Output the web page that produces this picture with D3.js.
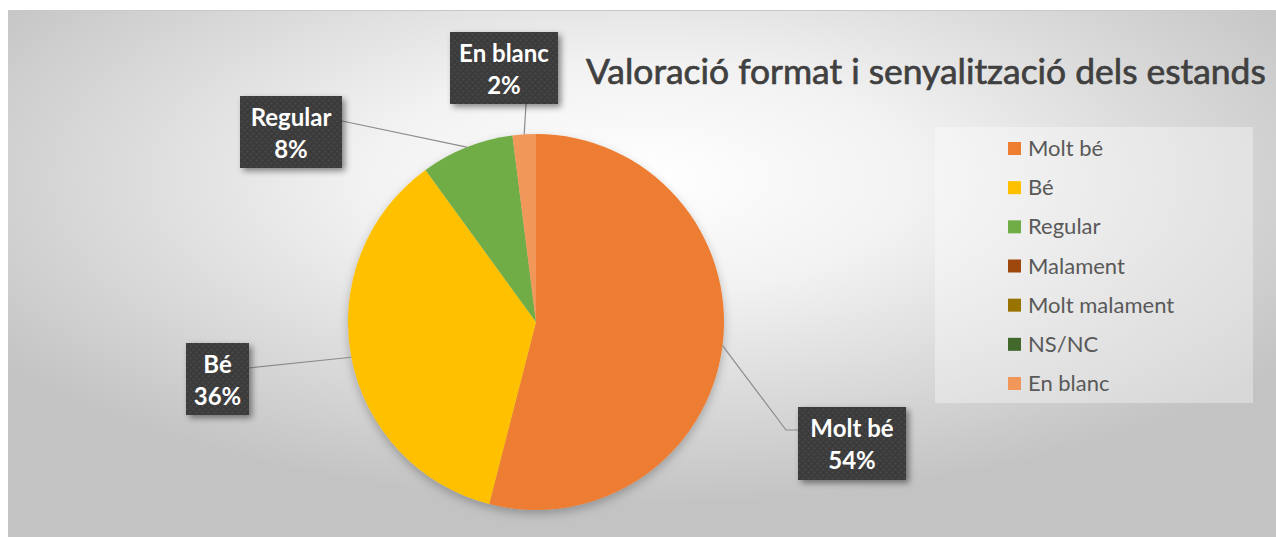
<!DOCTYPE html>
<html><head><meta charset="utf-8">
<script src="https://cdn.jsdelivr.net/npm/d3@7"></script>
<style>html,body{margin:0;padding:0;background:#fff;overflow:hidden}</style>
</head><body>
<svg id="chart" width="1276" height="537"></svg>
<script>
// ---- data ----
const categories = ["Molt bé","Bé","Regular","Malament","Molt malament","NS/NC","En blanc"];
const values = [54, 36, 8, 0, 0, 0, 2];
const colors = ["#ED7D31","#FFC000","#70AD47","#9E480E","#997300","#43682B","#F1975A"];
const title = "Valoració format i senyalització dels estands";

// ---- layout ----
const W = 1276, H = 537;
const svg = d3.select("#chart");
const defs = svg.append("defs");

const bg = defs.append("radialGradient").attr("id","bgGrad")
  .attr("cx","50%").attr("cy","32%").attr("r","62%").attr("fx","50%").attr("fy","32%");
bg.append("stop").attr("offset","0%").attr("stop-color","#ffffff");
bg.append("stop").attr("offset","35%").attr("stop-color","#f2f2f2");
bg.append("stop").attr("offset","100%").attr("stop-color","#c3c3c3");

const shadow = defs.append("filter").attr("id","shadow").attr("x","-20%").attr("y","-20%").attr("width","150%").attr("height","150%");
shadow.append("feDropShadow").attr("dx",3).attr("dy",3).attr("stdDeviation",3).attr("flood-color","#000").attr("flood-opacity",0.45);
const pieShadow = defs.append("filter").attr("id","pieShadow").attr("x","-20%").attr("y","-20%").attr("width","140%").attr("height","140%");
pieShadow.append("feDropShadow").attr("dx",0).attr("dy",4).attr("stdDeviation",5).attr("flood-color","#000").attr("flood-opacity",0.25);

const pat = defs.append("pattern").attr("id","dots").attr("width",6).attr("height",6).attr("patternUnits","userSpaceOnUse");
pat.append("rect").attr("width",6).attr("height",6).attr("fill","#3b3b3b");
pat.append("circle").attr("cx",1.5).attr("cy",1.5).attr("r",1.1).attr("fill","#4a4a4a");
pat.append("circle").attr("cx",4.5).attr("cy",4.5).attr("r",1.1).attr("fill","#4a4a4a");

// chart area
svg.append("rect").attr("x",8).attr("y",10).attr("width",W-8).attr("height",H-10).attr("fill","url(#bgGrad)");
svg.append("line").attr("x1",8).attr("x2",W).attr("y1",10.5).attr("y2",10.5).attr("stroke","#c9c9c9");

// title
const titleText = svg.append("text").attr("x",586).attr("y",84)
  .attr("font-family","Lato, 'Open Sans', sans-serif").attr("font-size",30)
  .attr("fill","#404040").attr("stroke","#404040").attr("stroke-width",0.7).text(title);
{
  const len = titleText.node().getComputedTextLength();
  titleText.attr("font-size", 30 * 680 / len);
}

// pie
const cx = 536, cy = 322, R = 188;
const pie = d3.pie().sort(null).value(d => d.v).startAngle(0).endAngle(2*Math.PI);
const data = categories.map((c,i)=>({c, v: values[i], col: colors[i], i}));
const arcs = pie(data);
const arc = d3.arc().innerRadius(0).outerRadius(R);
const g = svg.append("g").attr("transform",`translate(${cx},${cy})`);
g.append("g").attr("filter","url(#pieShadow)")
  .selectAll("path").data(arcs.filter(a=>a.data.v>0)).join("path")
  .attr("d",arc).attr("fill",d=>d.data.col);

// labels (box placement = layout)
const labelBoxes = {
  "Molt bé": {x:798, y:407, w:108, h:73, elbow:[786,430], attach:[798,430]},
  "Bé":      {x:186, y:343, w:63,  h:72, attach:[249,368]},
  "Regular": {x:240, y:96,  w:102, h:72, attach:[342,121]},
  "En blanc":{x:450, y:32,  w:108, h:72, attach:[526,104]}
};
const total = d3.sum(values);
const lab = svg.append("g");
arcs.filter(a=>a.data.v>0).forEach(a=>{
  const b = labelBoxes[a.data.c];
  const mid = (a.startAngle + a.endAngle)/2;
  const px = cx + R*Math.sin(mid), py = cy - R*Math.cos(mid);
  const pts = [[px,py]];
  if (b.elbow) pts.push(b.elbow);
  pts.push(b.attach);
  lab.append("path").attr("d", d3.line()(pts)).attr("fill","none").attr("stroke","#8c8c8c").attr("stroke-width",1.2);
  lab.append("rect").attr("x",b.x).attr("y",b.y).attr("width",b.w).attr("height",b.h)
    .attr("fill","url(#dots)").attr("filter","url(#shadow)");
  const t = lab.append("text").attr("text-anchor","middle")
    .attr("font-family","Lato, 'Open Sans', sans-serif").attr("font-weight","bold")
    .attr("font-size",24).attr("fill","#ffffff");
  t.append("tspan").attr("x",b.x+b.w/2).attr("y",b.y+30).text(a.data.c);
  t.append("tspan").attr("x",b.x+b.w/2).attr("y",b.y+62).text(d3.format(".0%")(a.data.v/total));
});

// legend
const lg = svg.append("g");
lg.append("rect").attr("x",935).attr("y",127).attr("width",318).attr("height",276)
  .attr("fill","#ffffff").attr("fill-opacity",0.35);
const ly = d3.scalePoint().domain(categories).range([148.5,383.5]);
categories.forEach((c,i)=>{
  lg.append("rect").attr("x",1008).attr("y",ly(c)-6.5).attr("width",13).attr("height",13).attr("fill",colors[i]);
  lg.append("text").attr("x",1028).attr("y",ly(c)+7.5)
    .attr("font-family","Lato, 'Open Sans', sans-serif").attr("font-size",22)
    .attr("fill","#595959").text(c);
});
</script>
</body></html>
